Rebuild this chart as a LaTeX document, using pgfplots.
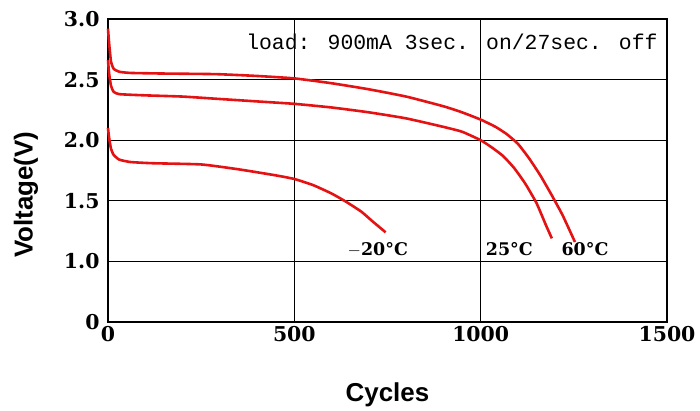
\documentclass[border=0pt]{standalone}
\usepackage{pgfplots}
\pgfplotsset{compat=1.18}
\usepackage{fontspec}
\setmainfont{DejaVu Serif}
\newfontfamily\labelfont{Liberation Sans}
\newfontfamily\monofont{Liberation Mono}
\definecolor{curve}{RGB}{228,18,18}
\begin{document}
\begin{tikzpicture}[x=1bp,y=1bp]
\useasboundingbox (-108,-88) rectangle (592,322);
\begin{axis}[
  at={(0,0)}, anchor=south west,
  scale only axis, width=559bp, height=303bp,
  xmin=0, xmax=1500, ymin=0.5, ymax=3.0,
  xtick={0,500,1000,1500}, xticklabels={0,500,1000,1500},
  ytick={0.5,1,1.5,2,2.5,3}, yticklabels={0,1.0,1.5,2.0,2.5,3.0},
  grid=major, major grid style={black, line width=1.1bp},
  axis line style={black, line width=1.6bp},
  tick style={draw=none},
  ticklabel style={font=\fontsize{20.5}{22}\selectfont\bfseries},
  xticklabel style={yshift=-1bp},
  yticklabel style={xshift=-5bp},
  xlabel={Cycles}, ylabel={Voltage(V)},
  label style={font=\labelfont\bfseries\fontsize{26}{28}\selectfont},
  xlabel style={at={(axis description cs:0.5,-0.241)}, anchor=center},
  ylabel style={at={(axis description cs:-0.1467,0.42)}, anchor=center},
  clip=false,
]
\addplot[curve, line width=2.6bp, smooth, tension=0.3] coordinates {
(0,2.92) (3,2.80) (8,2.65) (15,2.59) (30,2.565) (60,2.555) (150,2.55) (290,2.545)
(400,2.53) (500,2.51) (600,2.47) (700,2.42) (800,2.36) (900,2.28) (950,2.23)
(1000,2.17) (1040,2.11) (1070,2.05) (1100,1.97) (1130,1.85) (1160,1.71)
(1190,1.55) (1220,1.38) (1253,1.16)};
\addplot[curve, line width=2.6bp, smooth, tension=0.3] coordinates {
(0,2.66) (3,2.55) (8,2.45) (15,2.40) (30,2.38) (100,2.37) (200,2.36) (300,2.34)
(400,2.32) (500,2.30) (600,2.27) (700,2.23) (800,2.18) (900,2.11) (950,2.07)
(1000,2.00) (1030,1.94) (1060,1.87) (1090,1.77) (1120,1.64) (1150,1.48)
(1175,1.30) (1191,1.19)};
\addplot[curve, line width=2.6bp, smooth, tension=0.3] coordinates {
(0,2.10) (3,2.02) (8,1.93) (15,1.88) (30,1.84) (60,1.82) (120,1.81) (250,1.80)
(350,1.76) (450,1.71) (500,1.68) (550,1.63) (600,1.56) (640,1.49) (680,1.41)
(710,1.33) (745,1.24)};
\node[font=\monofont\fontsize{21.5}{22}\selectfont, anchor=east, inner sep=1bp] at (axis cs:1478,2.81) {load: 900mA 3sec. on/27sec. off};
\node[font=\fontsize{17.5}{18}\selectfont\bfseries] at (axis cs:724,1.10) {$-$20°C};
\node[font=\fontsize{17.5}{18}\selectfont\bfseries] at (axis cs:1077,1.10) {25°C};
\node[font=\fontsize{17.5}{18}\selectfont\bfseries] at (axis cs:1280,1.10) {60°C};
\end{axis}
\end{tikzpicture}
\end{document}
